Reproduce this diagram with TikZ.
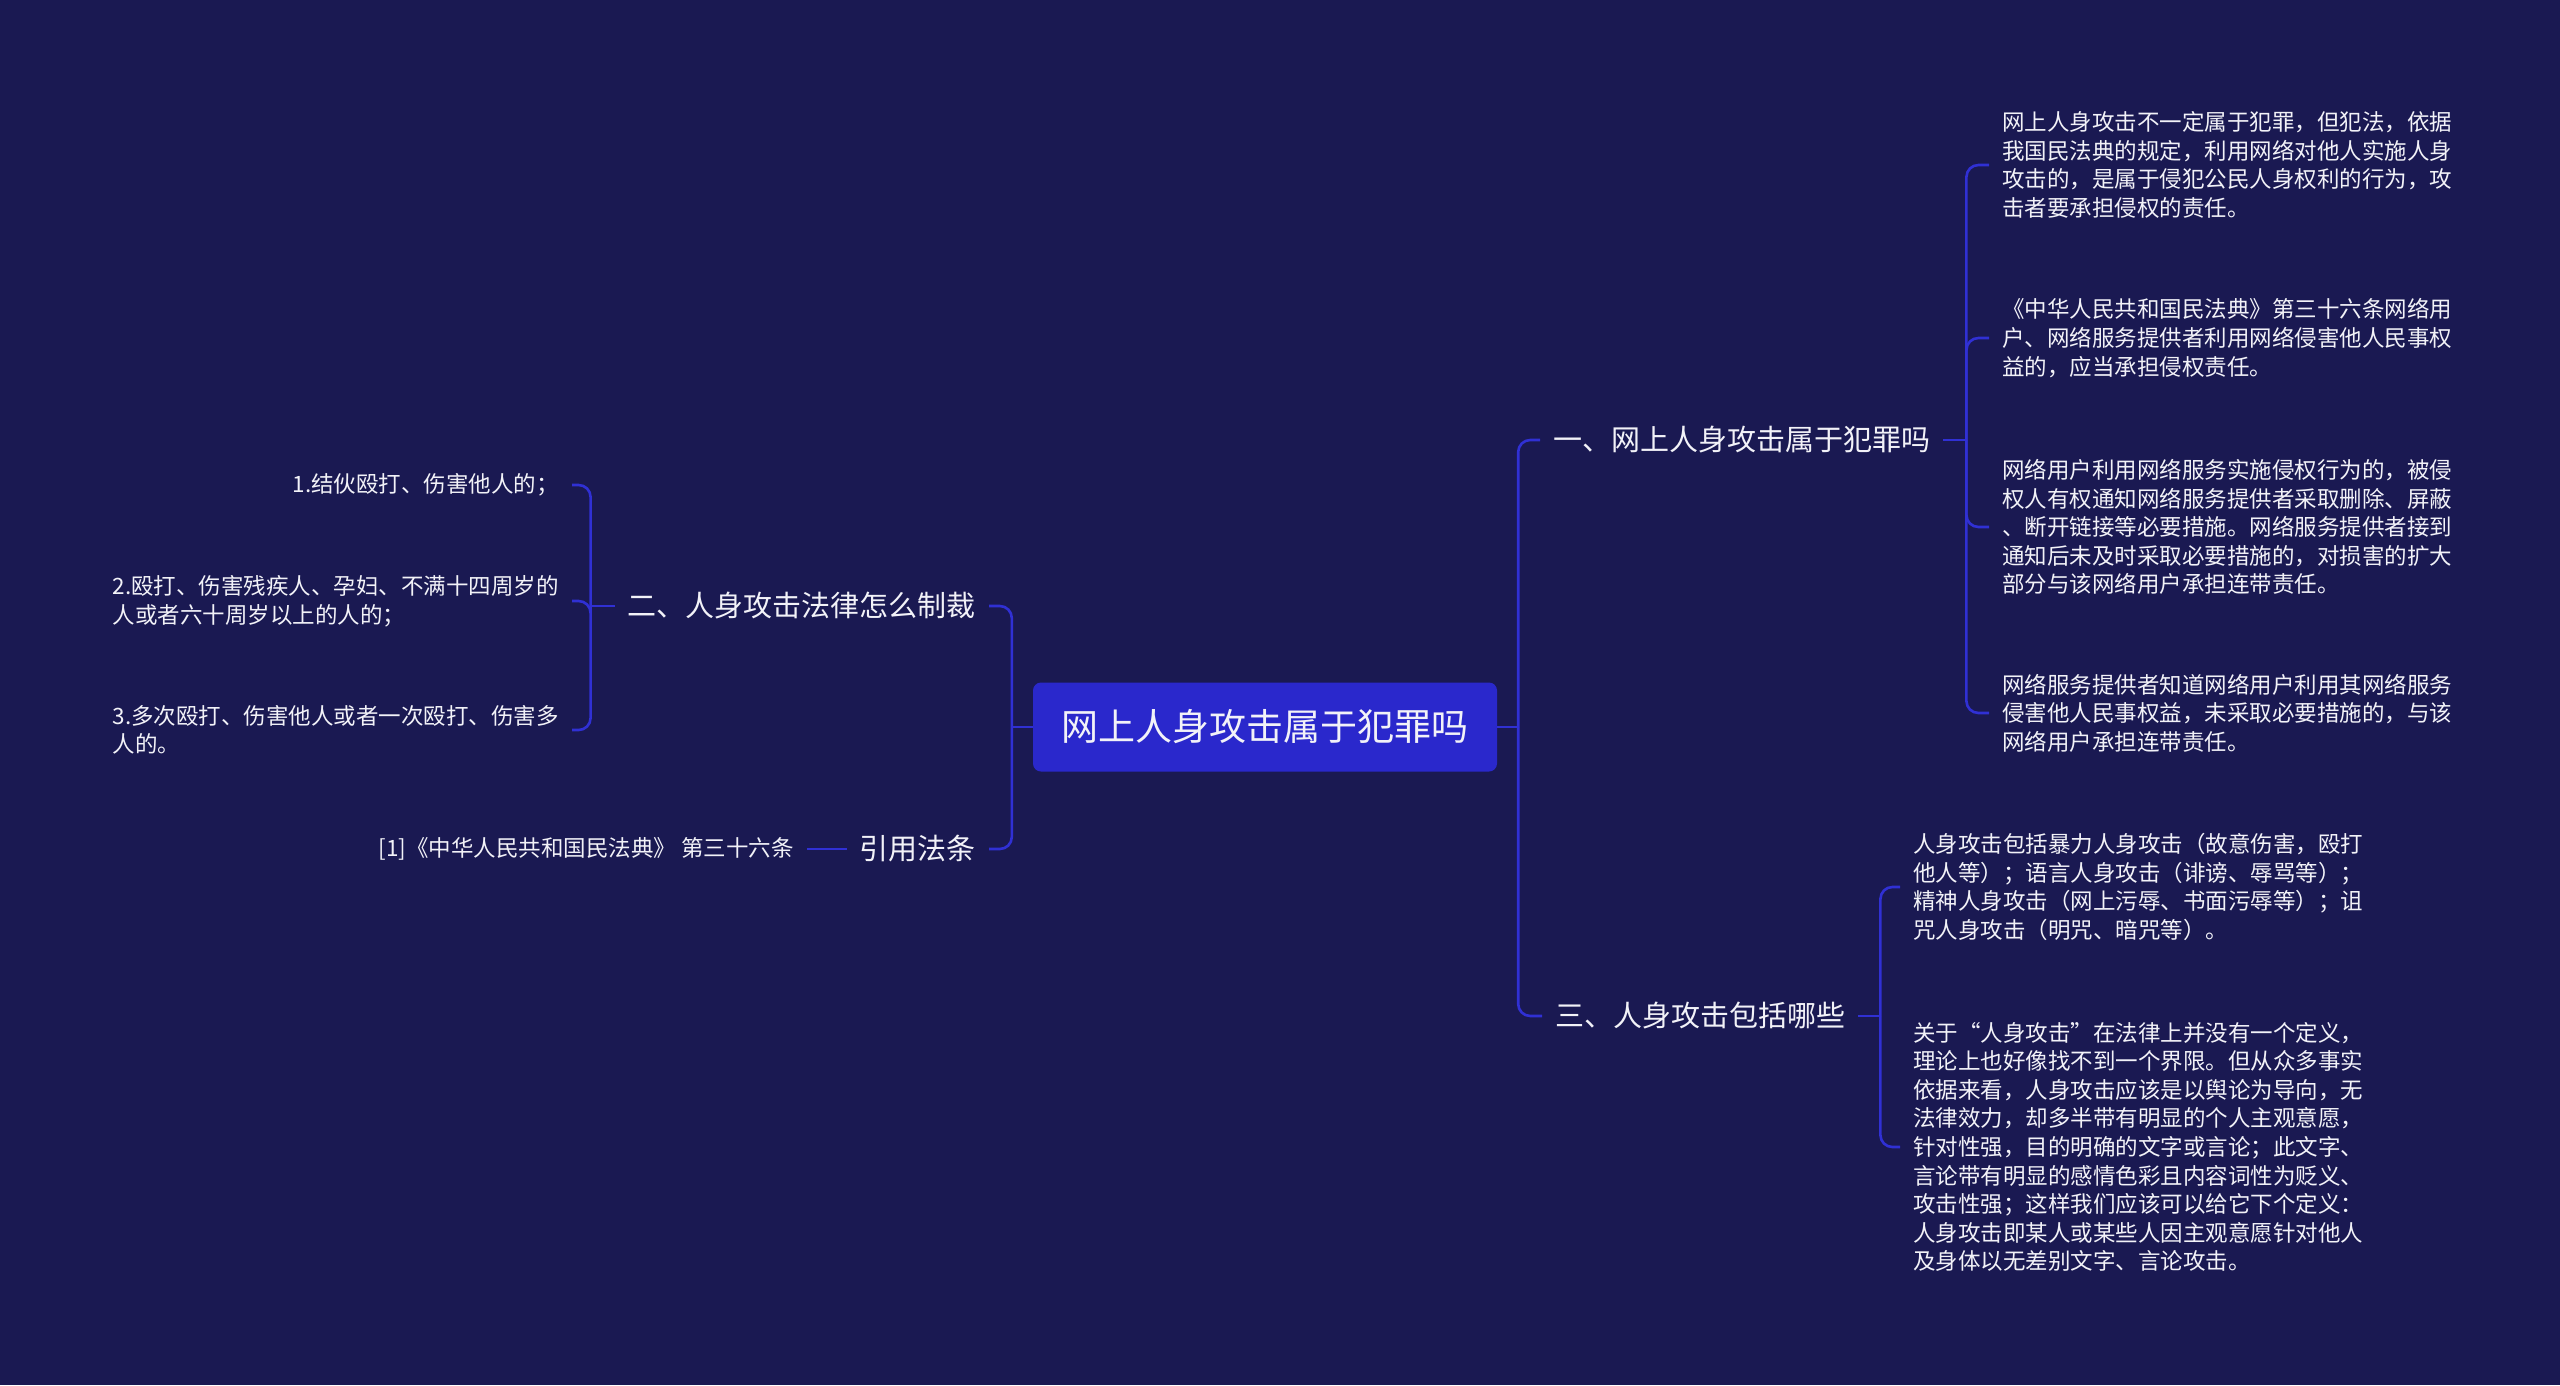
\documentclass[tikz,border=0pt]{standalone}
\usepackage{fontspec}
\setmainfont{Noto Sans CJK SC}
\definecolor{bgcol}{RGB}{26,25,82}
\definecolor{titlecol}{RGB}{42,40,204}
\definecolor{linecol}{RGB}{48,48,212}
\definecolor{txtcol}{RGB}{242,242,248}

\begin{document}
\begin{tikzpicture}[x=1pt, y=-1pt,
    title/.style={fill=titlecol, rounded corners=8pt, minimum width=464pt, minimum height=89pt,
        text=txtcol, font=\fontsize{37}{44}\selectfont},
    branch/.style={text=txtcol, inner xsep=13pt, inner ysep=2pt, font=\fontsize{29}{34}\selectfont},
    leaf/.style={text=txtcol, inner xsep=13pt, inner ysep=2pt, align=left, font=\fontsize{22.5}{28.6}\selectfont},
    link/.style={draw=linecol, line width=2.6pt, rounded corners=12pt}]
    \fill[bgcol] (0,0) rectangle (2560,1385);
    \useasboundingbox (0,0) rectangle (2560,1385);

    \node[title] (t) at (1265,727) {网上人身攻击属于犯罪吗};

    % right side
    \node[branch, anchor=west] (b1) at (1540,440) {一、网上人身攻击属于犯罪吗};
    \node[branch, anchor=west] (b3) at (1542,1016) {三、人身攻击包括哪些};

    \node[leaf, anchor=west] (r1) at (1989,165) {网上人身攻击不一定属于犯罪，但犯法，依据\\我国民法典的规定，利用网络对他人实施人身\\攻击的，是属于侵犯公民人身权利的行为，攻\\击者要承担侵权的责任。};
    \node[leaf, anchor=west] (r2) at (1989,338) {《中华人民共和国民法典》第三十六条网络用\\户、网络服务提供者利用网络侵害他人民事权\\益的，应当承担侵权责任。};
    \node[leaf, anchor=west] (r3) at (1989,527) {网络用户利用网络服务实施侵权行为的，被侵\\权人有权通知网络服务提供者采取删除、屏蔽\\、断开链接等必要措施。网络服务提供者接到\\通知后未及时采取必要措施的，对损害的扩大\\部分与该网络用户承担连带责任。};
    \node[leaf, anchor=west] (r4) at (1989,713) {网络服务提供者知道网络用户利用其网络服务\\侵害他人民事权益，未采取必要措施的，与该\\网络用户承担连带责任。};

    \node[leaf, anchor=west] (s1) at (1900,887) {人身攻击包括暴力人身攻击（故意伤害，殴打\\他人等）；语言人身攻击（诽谤、辱骂等）；\\精神人身攻击（网上污辱、书面污辱等）；诅\\咒人身攻击（明咒、暗咒等）。};
    \node[leaf, anchor=west] (s2) at (1900,1147) {关于“人身攻击”在法律上并没有一个定义，\\理论上也好像找不到一个界限。但从众多事实\\依据来看，人身攻击应该是以舆论为导向，无\\法律效力，却多半带有明显的个人主观意愿，\\针对性强，目的明确的文字或言论；此文字、\\言论带有明显的感情色彩且内容词性为贬义、\\攻击性强；这样我们应该可以给它下个定义：\\人身攻击即某人或某些人因主观意愿针对他人\\及身体以无差别文字、言论攻击。};

    % left side
    \node[branch, anchor=east] (b2) at (989,606) {二、人身攻击法律怎么制裁};
    \node[branch, anchor=east] (b4) at (989,849) {引用法条};

    \node[leaf, anchor=east] (l1) at (572,485) {1.结伙殴打、伤害他人的；};
    \node[leaf, anchor=east] (l2) at (572,601) {2.殴打、伤害残疾人、孕妇、不满十四周岁的\\人或者六十周岁以上的人的；};
    \node[leaf, anchor=east] (l3) at (572,730) {3.多次殴打、伤害他人或者一次殴打、伤害多\\人的。};
    \node[leaf, anchor=east] (q1) at (807,849) {[1]《中华人民共和国民法典》 第三十六条};

    % connectors
    \draw[link] (t.east) -- ++(21,0) coordinate (jr);
    \foreach \n in {b1,b3} \draw[link] (jr) |- (\n.west);
    \draw[link] (b1.east) -- ++(23,0) coordinate (j1);
    \foreach \n in {r1,r2,r3,r4} \draw[link] (j1) |- (\n.west);
    \draw[link] (b3.east) -- ++(22,0) coordinate (j3);
    \foreach \n in {s1,s2} \draw[link] (j3) |- (\n.west);

    \draw[link] (t.west) -- ++(-21,0) coordinate (jl);
    \foreach \n in {b2,b4} \draw[link] (jl) |- (\n.east);
    \draw[link] (b2.west) -- ++(-24,0) coordinate (j2);
    \foreach \n in {l1,l2,l3} \draw[link] (j2) |- (\n.east);
    \draw[link] (q1.east) -- (b4.west);
\end{tikzpicture}
\end{document}
